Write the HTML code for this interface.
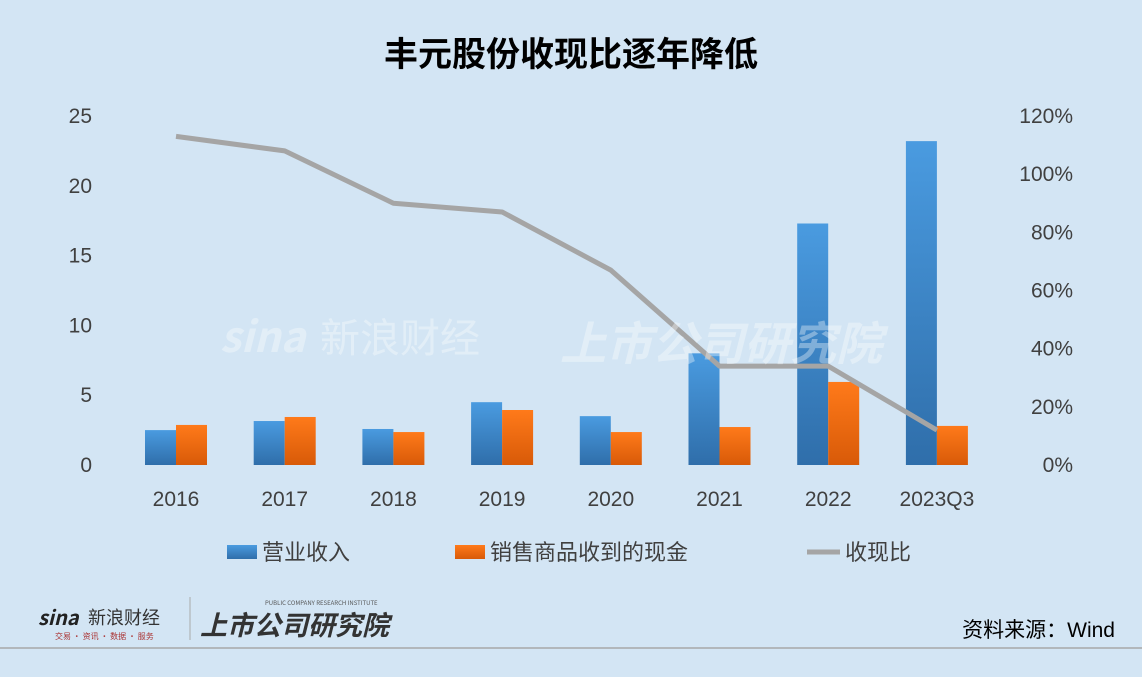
<!DOCTYPE html>
<html><head><meta charset="utf-8"><style>
body{margin:0;width:1142px;height:677px;background:#d3e5f4;overflow:hidden;font-family:"Liberation Sans","Noto Sans CJK SC",sans-serif}
</style></head><body>
<svg width="1142" height="677" style="position:absolute;left:0;top:0">
<defs>
<linearGradient id="gb" x1="0" y1="0" x2="0" y2="1"><stop offset="0" stop-color="#4a9be0"/><stop offset="1" stop-color="#2f6eaa"/></linearGradient>
<linearGradient id="go" x1="0" y1="0" x2="0" y2="1"><stop offset="0" stop-color="#ff7a1a"/><stop offset="1" stop-color="#d85a08"/></linearGradient>
</defs>
<text x="571" y="66" text-anchor="middle" font-size="34" font-weight="bold" fill="#000" font-family="'Liberation Sans','Noto Sans CJK SC',sans-serif">丰元股份收现比逐年降低</text>
<g id="ax" font-size="21" fill="#404040"></g>
<g id="marks"></g>
<g opacity="0.35" fill="#fff" font-family="'Noto Sans CJK SC',sans-serif">
<text x="220" y="352" font-size="42" font-weight="bold" font-style="italic">sina</text>
<text x="320" y="352" font-size="40">新浪财经</text>
<text x="560" y="360" font-size="46" font-weight="bold" font-style="italic">上市公司研究院</text>
</g>
<g font-size="22" fill="#404040" font-family="'Liberation Sans','Noto Sans CJK SC',sans-serif">
<rect x="227" y="545" width="30" height="14" fill="url(#gb)"/>
<text x="262" y="560">营业收入</text>
<rect x="455" y="545" width="30" height="14" fill="url(#go)"/>
<text x="490" y="560">销售商品收到的现金</text>
<line x1="807" y1="552" x2="840" y2="552" stroke="#a5a5a5" stroke-width="5"/>
<text x="845" y="560">收现比</text>
</g>
<g font-family="'Noto Sans CJK SC',sans-serif">
<text x="38" y="625" font-size="20" font-weight="bold" font-style="italic" fill="#222">sina</text>
<text x="88" y="624" font-size="18" fill="#333">新浪财经</text>
<text x="55" y="639" font-size="8" fill="#a33">交易 · 资讯 · 数据 · 服务</text>
<line x1="190" y1="597" x2="190" y2="640" stroke="#aaa"/>
<text x="265" y="605" font-size="6" fill="#555">PUBLIC COMPANY RESEARCH INSTITUTE</text>
<text x="200" y="635" font-size="27" font-weight="bold" font-style="italic" fill="#333">上市公司研究院</text>
</g>
<text x="1115" y="637" text-anchor="end" font-size="21" fill="#000" font-family="'Liberation Sans','Noto Sans CJK SC',sans-serif">资料来源：Wind</text>
<line x1="0" y1="648" x2="1142" y2="648" stroke="#a8a8a8" stroke-width="1.5"/>
</svg>
<script>
const categories=["2016","2017","2018","2019","2020","2021","2022","2023Q3"];
const revenue=[2.5,3.15,2.58,4.5,3.5,8.0,17.3,23.2];
const cash=[2.87,3.44,2.36,3.94,2.36,2.72,5.95,2.8];
const ratio=[113,108,90,87,67,34,34,12];
const leftTicks=[0,5,10,15,20,25];
const rightTicks=[0,20,40,60,80,100,120];
const NS="http://www.w3.org/2000/svg";
const y0=465,yTop=116;
const yL=v=>y0-v/25*(y0-yTop);
const yR=v=>y0-v/120*(y0-yTop);
const xC=i=>176+i*108.7;
const ax=document.getElementById('ax'),mk=document.getElementById('marks');
function mkEl(t,a,p){const e=document.createElementNS(NS,t);for(const k in a)e.setAttribute(k,a[k]);p.appendChild(e);return e;}
leftTicks.forEach(v=>{const t=mkEl('text',{x:92,y:yL(v)+7,'text-anchor':'end'},ax);t.textContent=v;

});
rightTicks.forEach(v=>{const t=mkEl('text',{x:1073,y:yR(v)+7,'text-anchor':'end'},ax);t.textContent=v+'%';

});
categories.forEach((c,i)=>{const t=mkEl('text',{x:xC(i),y:506,'text-anchor':'middle'},ax);t.textContent=c;


const b=mkEl('rect',{x:xC(i)-31,y:yL(revenue[i]),width:31,height:y0-yL(revenue[i]),fill:'url(#gb)'},mk);


const o=mkEl('rect',{x:xC(i),y:yL(cash[i]),width:31,height:y0-yL(cash[i]),fill:'url(#go)'},mk);

});
const pl=mkEl('polyline',{points:ratio.map((v,i)=>xC(i)+','+yR(v)).join(' '),fill:'none',stroke:'#a5a5a5','stroke-width':5,'stroke-linejoin':'round'},mk);


</script>
</body></html>
